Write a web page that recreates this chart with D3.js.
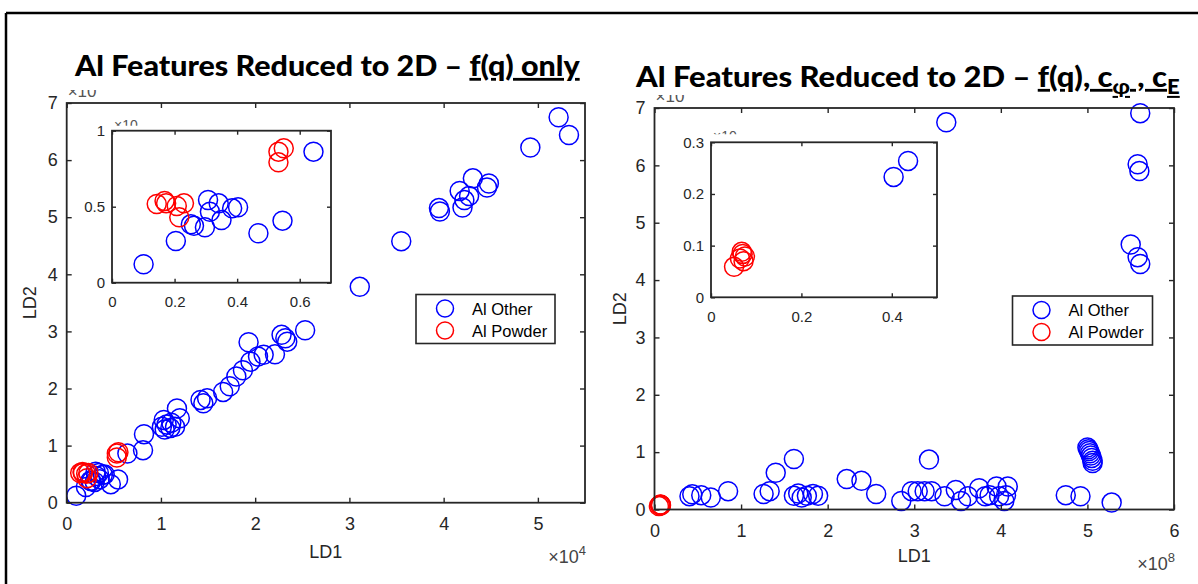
<!DOCTYPE html>
<html>
<head>
<meta charset="utf-8">
<script src="https://cdn.jsdelivr.net/npm/d3@7"></script>
<style>
  html, body { margin: 0; padding: 0; background: #fff; }
  svg { display: block; }
</style>
</head>
<body>
<svg id="chart" width="1198" height="584"></svg>
<script>
// ---------------- DATA ----------------
// Left panel: f(q) only   (LD1 in 1e4)
const leftOtherLD1 = [0.101, 0.204, 0.252, 0.262, 0.297, 0.307, 0.313, 0.341, 0.350, 0.384, 0.403, 0.468, 0.545, 0.644,
  0.81, 0.82, 1.01, 1.04, 1.06, 1.10, 1.11, 1.15, 1.17, 1.20, 1.03, 1.42, 1.45, 1.49, 1.66, 1.73, 1.80, 1.87,
  1.93, 1.95, 2.03, 2.09, 2.21, 2.28, 2.32, 2.34, 2.53, 3.11, 3.55, 3.95, 3.96, 4.20, 4.22, 4.27, 4.17, 4.31,
  4.46, 4.48, 4.92, 5.22, 5.33];
const leftOtherLD2 = [0.121, 0.274, 0.384, 0.375, 0.364, 0.544, 0.467, 0.522, 0.412, 0.489, 0.496, 0.325, 0.408, 0.862,
  0.92, 1.20, 1.33, 1.28, 1.37, 1.31, 1.40, 1.33, 1.65, 1.48, 1.45, 1.80, 1.74, 1.83, 1.94, 2.04, 2.21, 2.32,
  2.81, 2.47, 2.56, 2.59, 2.60, 2.94, 2.88, 2.82, 3.02, 3.78, 4.58, 5.16, 5.10, 5.17, 5.30, 5.37, 5.46, 5.68,
  5.52, 5.59, 6.22, 6.75, 6.44];
const leftPowderLD1 = [0.143, 0.168, 0.173, 0.207, 0.230, 0.215, 0.532, 0.549, 0.532];
const leftPowderLD2 = [0.518, 0.538, 0.522, 0.505, 0.522, 0.430, 0.862, 0.884, 0.792];

// Right panel: f(q), c_phi, c_E   (LD1 in 1e8)
const rightOtherLD1 = [0.404, 0.436, 0.54, 0.65, 0.85, 1.26, 1.33, 1.40, 1.61, 1.61, 1.66, 1.70, 1.76, 1.83, 1.89,
  2.22, 2.39, 2.56, 2.85, 2.97, 3.04, 3.12, 3.17, 3.20, 3.35, 3.48, 3.54, 3.62, 3.75, 3.82, 3.87, 3.95, 3.98,
  4.04, 4.08, 4.06, 4.75, 4.92, 5.28,
  5.00, 5.01, 5.02, 5.03, 5.04, 5.05, 5.06, 5.06,
  3.37, 5.61, 5.58, 5.60, 5.50, 5.58, 5.61];
const rightOtherLD2 = [0.233, 0.264, 0.25, 0.21, 0.32, 0.27, 0.32, 0.64, 0.88, 0.24, 0.28, 0.21, 0.24, 0.27, 0.24,
  0.53, 0.50, 0.27, 0.15, 0.32, 0.32, 0.32, 0.87, 0.32, 0.23, 0.34, 0.15, 0.23, 0.37, 0.23, 0.25, 0.40, 0.23,
  0.15, 0.40, 0.25, 0.25, 0.23, 0.12,
  1.08, 1.05, 1.02, 0.98, 0.94, 0.90, 0.85, 0.81,
  6.75, 6.91, 6.02, 5.90, 4.62, 4.40, 4.28];
const rightPowderLD1 = [0.051, 0.064, 0.070, 0.075, 0.072, 0.068];
const rightPowderLD2 = [0.059, 0.075, 0.084, 0.079, 0.070, 0.088];

// Axis ticks
const leftXTicks = [0, 1, 2, 3, 4, 5];
const leftYTicks = [0, 1, 2, 3, 4, 5, 6, 7];
const leftInsetXTicks = [0, 0.2, 0.4, 0.6];
const leftInsetYTicks = [0, 0.5, 1];
const rightXTicks = [0, 1, 2, 3, 4, 5, 6];
const rightYTicks = [0, 1, 2, 3, 4, 5, 6, 7];
const rightInsetXTicks = [0, 0.2, 0.4];
const rightInsetYTicks = [0, 0.1, 0.2, 0.3];
const seriesNames = ["Al Other", "Al Powder"];
const seriesColors = ["#0000ff", "#ff0000"];

// ---------------- DRAWING ----------------
const svg = d3.select("#chart");
const AX = "#262626";
const FONT = "'Liberation Sans', Arial, sans-serif";
let clipId = 0;

function zip(xs, ys) { return xs.map((x, i) => [x, ys[i]]); }

function drawAxes(g, x, y, xt, yt, opts) {
  const fs = opts.fontSize, tl = opts.tickLen;
  const [x0, x1] = x.range(), [y0, y1] = y.range();
  const styleAxis = sel => {
    sel.select(".domain").remove();
    sel.selectAll(".tick line").attr("stroke", AX).attr("stroke-width", 1.4);
    sel.selectAll(".tick text").attr("fill", AX).style("font-family", FONT).style("font-size", fs + "px");
  };
  g.append("g").attr("transform", `translate(0,${y0})`)
    .call(d3.axisBottom(x).tickValues(xt).tickSize(-tl).tickPadding(opts.xPad).tickFormat(opts.xFmt)).call(styleAxis);
  g.append("g").attr("transform", `translate(0,${y1})`)
    .call(d3.axisTop(x).tickValues(xt).tickSize(-tl).tickFormat("")).call(styleAxis);
  g.append("g").attr("transform", `translate(${x0},0)`)
    .call(d3.axisLeft(y).tickValues(yt).tickSize(-tl).tickPadding(opts.yPad).tickFormat(opts.yFmt)).call(styleAxis);
  g.append("g").attr("transform", `translate(${x1},0)`)
    .call(d3.axisRight(y).tickValues(yt).tickSize(-tl).tickFormat("")).call(styleAxis);
  g.append("rect").attr("x", x0).attr("y", y1).attr("width", x1 - x0).attr("height", y0 - y1)
    .attr("fill", "none").attr("stroke", AX).attr("stroke-width", 1.8);
}

function drawPoints(g, x, y, series, r, clipRect) {
  const id = "clip" + (clipId++);
  g.append("clipPath").attr("id", id).append("rect")
    .attr("x", clipRect[0]).attr("y", clipRect[1]).attr("width", clipRect[2]).attr("height", clipRect[3]);
  const pg = g.append("g").attr("clip-path", `url(#${id})`);
  series.forEach((s, si) => {
    pg.selectAll(null).data(s).enter().append("circle")
      .attr("cx", d => x(d[0])).attr("cy", d => y(d[1])).attr("r", r)
      .attr("fill", "none").attr("stroke", seriesColors[si]).attr("stroke-width", 1.5);
  });
}

function drawPanel(cfg) {
  const g = svg.append("g");
  const x = d3.scaleLinear().domain(cfg.xDom).range([cfg.box[0], cfg.box[1]]);
  const y = d3.scaleLinear().domain(cfg.yDom).range([cfg.box[3], cfg.box[2]]);
  const series = [zip(cfg.otherX, cfg.otherY), zip(cfg.powderX, cfg.powderY)];
  drawPoints(g, x, y, series, 9.5, [cfg.box[0] - 12, cfg.box[2] - 12, cfg.box[1] - cfg.box[0] + 24, cfg.box[3] - cfg.box[2] + 24]);
  drawAxes(g, x, y, cfg.xTicks, cfg.yTicks, { fontSize: 18, tickLen: 5, xPad: 15, yPad: 9, xFmt: d3.format("d"), yFmt: d3.format("d") });

  // axis labels
  g.append("text").attr("x", (cfg.box[0] + cfg.box[1]) / 2).attr("y", cfg.ld1Y).attr("text-anchor", "middle")
    .attr("fill", AX).style("font-family", FONT).style("font-size", "18px").text("LD1");
  g.append("text").attr("transform", `translate(${cfg.ld2X},${(cfg.box[2] + cfg.box[3]) / 2}) rotate(-90)`)
    .attr("text-anchor", "middle").attr("fill", AX).style("font-family", FONT).style("font-size", "18px").text("LD2");
  // x exponent
  const ex = g.append("text").attr("x", cfg.box[1] + 1).attr("y", cfg.expY).attr("text-anchor", "end")
    .attr("fill", "#444").style("font-family", FONT).style("font-size", "18px");
  ex.append("tspan").text("×10");
  ex.append("tspan").attr("dy", -8).style("font-size", "13px").text(cfg.xExp);
  // y exponent (partly hidden behind the title)
  const cid = "clip" + (clipId++);
  g.append("clipPath").attr("id", cid).append("rect").attr("x", cfg.box[0]).attr("y", cfg.yExpClip).attr("width", 60).attr("height", 20);
  g.append("text").attr("x", cfg.box[0] + 1).attr("y", cfg.box[2] - 6).attr("clip-path", `url(#${cid})`)
    .attr("fill", "#555").style("font-family", FONT).style("font-size", "17px").text("×10");

  // inset
  const ib = cfg.inset.box;
  const ig = svg.append("g");
  ig.append("rect").attr("x", ib[0]).attr("y", ib[2]).attr("width", ib[1] - ib[0]).attr("height", ib[3] - ib[2]).attr("fill", "#fff");
  const ix = d3.scaleLinear().domain(cfg.inset.xDom).range([ib[0], ib[1]]);
  const iy = d3.scaleLinear().domain(cfg.inset.yDom).range([ib[3], ib[2]]);
  drawPoints(ig, ix, iy, series, 9.5, [ib[0], ib[2], ib[1] - ib[0], ib[3] - ib[2]]);
  drawAxes(ig, ix, iy, cfg.inset.xTicks, cfg.inset.yTicks, { fontSize: 15, tickLen: 4, xPad: 14, yPad: 7, xFmt: d3.format(""), yFmt: d3.format("") });
  const cid2 = "clip" + (clipId++);
  ig.append("clipPath").attr("id", cid2).append("rect").attr("x", ib[0]).attr("y", ib[2] - 30).attr("width", 50).attr("height", 30 - cfg.inset.expHide);
  ig.append("text").attr("x", ib[0] + 2).attr("y", ib[2] - 1).attr("clip-path", `url(#${cid2})`)
    .attr("fill", "#555").style("font-family", FONT).style("font-size", "14px").text("×10");

  // legend
  const L = cfg.legend;
  const lg = svg.append("g");
  lg.append("rect").attr("x", L[0]).attr("y", L[1]).attr("width", L[2]).attr("height", L[3])
    .attr("fill", "#fff").attr("stroke", "#262626").attr("stroke-width", 1.6);
  seriesNames.forEach((n, i) => {
    const cy = L[1] + 14 + i * 22;
    lg.append("circle").attr("cx", L[0] + 29).attr("cy", cy).attr("r", 8.5)
      .attr("fill", "none").attr("stroke", seriesColors[i]).attr("stroke-width", 1.5);
    lg.append("text").attr("x", L[0] + 56).attr("y", cy + 6).attr("fill", "#000")
      .style("font-family", FONT).style("font-size", "16.5px").text(n);
  });
}

// frame
svg.append("line").attr("x1", 6).attr("x2", 1198).attr("y1", 13).attr("y2", 13).attr("stroke", "#000").attr("stroke-width", 2.5);
svg.append("line").attr("x1", 6).attr("x2", 6).attr("y1", 13).attr("y2", 584).attr("stroke", "#000").attr("stroke-width", 2.5);

drawPanel({
  box: [66.7, 585, 103, 502.7], xDom: [0, 5.5], yDom: [0, 7],
  xTicks: leftXTicks, yTicks: leftYTicks,
  otherX: leftOtherLD1, otherY: leftOtherLD2, powderX: leftPowderLD1, powderY: leftPowderLD2,
  ld1Y: 558, ld2X: 36, expY: 563, xExp: "4", yExpClip: 90,
  inset: { box: [112, 331, 130.7, 282.7], xDom: [0, 0.7], yDom: [0, 1], xTicks: leftInsetXTicks, yTicks: leftInsetYTicks, expHide: 5 },
  legend: [416, 294.5, 139, 49]
});
drawPanel({
  box: [654.5, 1174, 108, 509.5], xDom: [0, 6], yDom: [0, 7],
  xTicks: rightXTicks, yTicks: rightYTicks,
  otherX: rightOtherLD1, otherY: rightOtherLD2, powderX: rightPowderLD1, powderY: rightPowderLD2,
  ld1Y: 562, ld2X: 626, expY: 570, xExp: "8", yExpClip: 95,
  inset: { box: [711, 937, 142.3, 297.3], xDom: [0, 0.5], yDom: [0, 0.3], xTicks: rightInsetXTicks, yTicks: rightInsetYTicks, expHide: 8 },
  legend: [1012.5, 296, 140, 49]
});

// titles (stretched horizontally to match the reference's wide bold face)
const TF = "Lato, 'Open Sans', sans-serif";
function fitTitle(t, x0, x1, yb) {
  const w = t.node().getComputedTextLength();
  t.attr("transform", `translate(${x0},${yb}) scale(${(x1 - x0) / w},1)`);
}
const t1 = svg.append("text").attr("x", 0).attr("y", 0).attr("fill", "#000")
  .style("font-family", TF).style("font-weight", 900).style("font-size", "28px");
t1.append("tspan").text("Al Features Reduced to 2D – ");
t1.append("tspan").style("text-decoration", "underline").text("f(q) only");
fitTitle(t1, 75, 580, 76);

const t2 = svg.append("text").attr("x", 0).attr("y", 0).attr("fill", "#000")
  .style("font-family", TF).style("font-weight", 900).style("font-size", "28px");
t2.append("tspan").text("Al Features Reduced to 2D – ");
t2.append("tspan").style("text-decoration", "underline").text("f(q), c");
t2.append("tspan").attr("dy", 7).style("font-size", "20px").style("text-decoration", "underline").text("φ");
t2.append("tspan").attr("dy", -7).style("text-decoration", "underline").text(" , c");
t2.append("tspan").attr("dy", 7).style("font-size", "20px").style("text-decoration", "underline").text("E");
fitTitle(t2, 636, 1180, 87);
</script>
</body>
</html>
